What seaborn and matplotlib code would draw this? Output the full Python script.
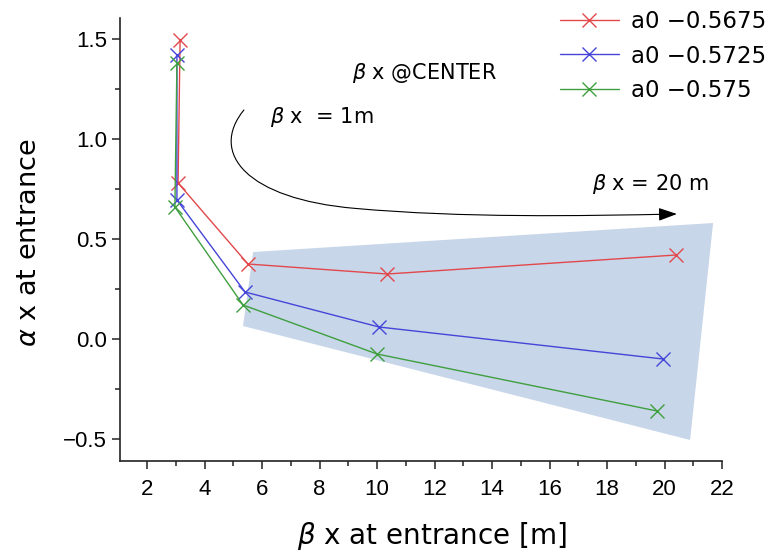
import numpy as np
import pandas as pd
import seaborn as sns
import matplotlib
matplotlib.use("Agg")
import matplotlib.pyplot as plt
from matplotlib import font_manager as fm
from matplotlib.path import Path
from matplotlib.patches import FancyArrowPatch
from matplotlib.ticker import MultipleLocator
from matplotlib.lines import Line2D

# ---- data ----
series_names = ["a0 \u22120.5675", "a0 \u22120.5725", "a0 \u22120.575"]
beta_red = [3.15, 3.08, 5.51, 10.35, 20.40]
alpha_red = [1.495, 0.78, 0.375, 0.325, 0.42]
beta_blue = [3.04, 3.04, 5.41, 10.07, 19.95]
alpha_blue = [1.42, 0.695, 0.235, 0.06, -0.10]
beta_green = [3.04, 2.97, 5.34, 10.00, 19.74]
alpha_green = [1.38, 0.66, 0.17, -0.075, -0.36]

# shaded region (corners)
region_beta = [5.69, 21.69, 20.89, 5.34]
region_alpha = [0.435, 0.58, -0.505, 0.065]

# curved arrow (beta_x = 1m -> 20 m)
arrow_beta = [5.37, 4.15, 5.45, 9.24, 13.0, 17.0, 20.43]
arrow_alpha = [1.145, 0.93, 0.70, 0.653, 0.605, 0.615, 0.625]

x_ticks = list(range(2, 23, 2))
y_ticks = [-0.5, 0.0, 0.5, 1.0, 1.5]

colors = ["#e2484b", "#4545d8", "#3f9f3f"]

df = pd.concat([
    pd.DataFrame({"beta": b, "alpha": a, "series": n, "order": range(len(b))})
    for b, a, n in zip([beta_red, beta_blue, beta_green],
                       [alpha_red, alpha_blue, alpha_green], series_names)
], ignore_index=True)

sns.set_theme(style="ticks")
names = {f.name for f in fm.fontManager.ttflist}
narrow = "Liberation Sans Narrow" in names
tick_family = "Liberation Sans Narrow" if narrow else "Liberation Sans"
tick_size = 18 if narrow else 16
plt.rcParams["font.family"] = ["DejaVu Sans"]
plt.rcParams["mathtext.fontset"] = "dejavusans"
plt.rcParams["text.color"] = "black"
plt.rcParams["axes.labelcolor"] = "black"

fig = plt.figure(figsize=(7.73, 5.52), dpi=100)
ax = fig.add_axes([120 / 773, 1 - 461 / 552, (722 - 120) / 773, (461 - 18) / 552])

ax.fill(region_beta, region_alpha, color="#c8d6e9", lw=0, zorder=1)

sns.lineplot(data=df, x="beta", y="alpha", hue="series", sort=False,
             estimator=None, units="series", palette=colors, marker="x",
             markersize=10, markeredgewidth=1.0, linewidth=1.0, ax=ax,
             zorder=3, legend=False)
for ln in ax.lines:
    ln.set_markeredgecolor(ln.get_color())
    ln.set_markerfacecolor(ln.get_color())

verts = list(zip(arrow_beta, arrow_alpha))
codes = [Path.MOVETO] + [Path.CURVE4] * 6
arrow = FancyArrowPatch(path=Path(verts, codes),
                        arrowstyle="-|>,head_length=0.7,head_width=0.25",
                        mutation_scale=16, lw=0.8, color="black", zorder=4)
ax.add_patch(arrow)

ax.text(9.13, 1.33, r"$\beta$ x @CENTER", fontsize=15, va="center", ha="left")
ax.text(6.28, 1.11, r"$\beta$ x  = 1m", fontsize=15, va="center", ha="left")
ax.text(17.48, 0.775, r"$\beta$ x = 20 m", fontsize=15, va="center", ha="left")

ax.set_xlim(1.06, 22)
ax.set_ylim(-0.61, 1.605)
ax.set_xticks(x_ticks)
ax.set_yticks(y_ticks)
ax.xaxis.set_minor_locator(MultipleLocator(1))
ax.yaxis.set_minor_locator(MultipleLocator(0.25))
ax.tick_params(which="major", length=6, width=1.1, color="#222222")
ax.tick_params(which="minor", length=3.5, width=1.1, color="#222222")
ax.tick_params(axis="x", which="major", pad=7)
for lab in ax.get_xticklabels() + ax.get_yticklabels():
    lab.set_fontfamily(tick_family)
    lab.set_fontsize(tick_size)
    lab.set_color("black")
for s in ["top", "right"]:
    ax.spines[s].set_visible(False)
for s in ["left", "bottom"]:
    ax.spines[s].set_color("#222222")
    ax.spines[s].set_linewidth(1.2)

ax.set_xlabel(r"$\beta$ x at entrance [m]", fontsize=20)
ax.set_ylabel(r"$\alpha$ x at entrance", fontsize=19.5)
ax.xaxis.set_label_coords((432 - 120) / 602, -(520 - 461) / 443)
ax.yaxis.set_label_coords((42 - 120) / 602, (461 - 243) / 443)

handles = [Line2D([], [], color=c, marker="x", markersize=10,
                  markeredgewidth=1.0, linewidth=1.0) for c in colors]
ax.legend(handles, series_names, loc="upper left",
          bbox_to_anchor=(555 / 773, 1 - 5 / 552),
          bbox_transform=fig.transFigure, frameon=False, fontsize=16.5,
          handlelength=2.6, handletextpad=0.5, labelspacing=0.52,
          borderpad=0.2, borderaxespad=0)

fig.savefig("out.png", dpi=100)
